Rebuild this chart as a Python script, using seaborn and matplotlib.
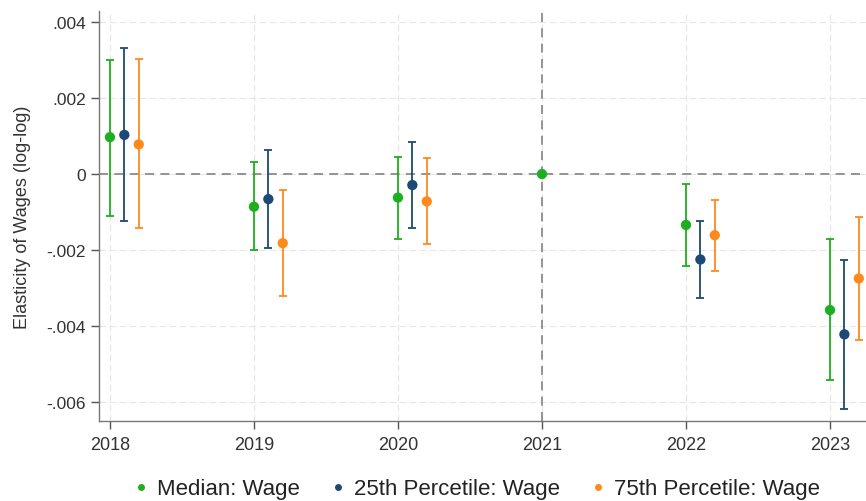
import numpy as np
import pandas as pd
import matplotlib
matplotlib.use("Agg")
import matplotlib.pyplot as plt
from matplotlib.lines import Line2D
import seaborn as sns

# Event-study coefficients with 95% confidence bounds
years = [2018, 2019, 2020, 2021, 2022, 2023]
series = ["Median: Wage", "25th Percetile: Wage", "75th Percetile: Wage"]

median_coef = [0.00097, -0.00086, -0.00062, 0.0, -0.00134, -0.00358]
median_lo = [-0.00110, -0.00199, -0.00172, 0.0, -0.00242, -0.00542]
median_hi = [0.00301, 0.00032, 0.00045, 0.0, -0.00025, -0.00171]

p25_coef = [0.00103, -0.00066, -0.00029, np.nan, -0.00225, -0.00422]
p25_lo = [-0.00123, -0.00194, -0.00143, np.nan, -0.00327, -0.00618]
p25_hi = [0.00332, 0.00063, 0.00085, np.nan, -0.00123, -0.00226]

p75_coef = [0.00078, -0.00182, -0.00072, np.nan, -0.00161, -0.00275]
p75_lo = [-0.00143, -0.00320, -0.00184, np.nan, -0.00255, -0.00436]
p75_hi = [0.00303, -0.00043, 0.00042, np.nan, -0.00069, -0.00114]

yticks = [0.004, 0.002, 0.0, -0.002, -0.004, -0.006]
ytick_labels = [".004", ".002", "0", "-.002", "-.004", "-.006"]

colors = ["#1fae1f", "#1d4a75", "#ff8a1c"]
offsets = [0.0, 0.1, 0.2]

frames = []
for name, off, c, lo, hi in zip(
    series, offsets,
    [median_coef, p25_coef, p75_coef],
    [median_lo, p25_lo, p75_lo],
    [median_hi, p25_hi, p75_hi],
):
    frames.append(pd.DataFrame({
        "year": years,
        "x": np.array(years) + off,
        "coef": c,
        "lo": lo,
        "hi": hi,
        "series": name,
    }))
df = pd.concat(frames, ignore_index=True).dropna()

sns.set_style("white")
plt.rcParams["font.family"] = ["Liberation Sans", "DejaVu Sans"]

fig = plt.figure(figsize=(8.66, 5.02), dpi=100)
ax = fig.add_axes([0.1143, 0.1594, 0.8857, 0.8166])

# faint dashed grid at major ticks
for yv in yticks:
    ax.axhline(yv, color="#e6e6e6", lw=0.8, ls=(0, (6, 3)), zorder=0)
for xv in years:
    ax.axvline(xv, color="#e6e6e6", lw=0.8, ls=(0, (6, 3)), zorder=0)

# reference lines
ax.axhline(0, color="#8c8c8c", lw=1.3, ls=(0, (5, 3.5)), zorder=1)
ax.axvline(2021, color="#8c8c8c", lw=1.3, ls=(0, (5, 3.5)), zorder=1)

palette = dict(zip(series, colors))
for name in series:
    sub = df[df["series"] == name]
    sub = sub[sub["hi"] != sub["lo"]]
    ax.errorbar(sub["x"], sub["coef"],
                yerr=[sub["coef"] - sub["lo"], sub["hi"] - sub["coef"]],
                fmt="none", ecolor=palette[name], elinewidth=1.3,
                capsize=3, capthick=1.3, zorder=2)

sns.scatterplot(data=df, x="x", y="coef", hue="series", palette=palette,
                s=55, edgecolor="none", legend=False, ax=ax, zorder=3)

ax.set_xlim(2017.924, 2023.25)
ax.set_ylim(-0.0065, 0.00429)
ax.set_xticks(years)
ax.set_xticklabels([str(y) for y in years])
ax.set_yticks(yticks)
ax.set_yticklabels(ytick_labels)
ax.set_xlabel("")
ax.set_ylabel("Elasticity of Wages (log-log)", fontsize=13, color="#333333", labelpad=11)
ax.tick_params(axis="both", length=6, width=1.0, color="#555555",
               labelsize=13, labelcolor="#333333", direction="out",
               bottom=True, left=True)
ax.tick_params(axis="y", labelsize=12.5)
ax.tick_params(axis="x", pad=5)

for side in ["top", "right"]:
    ax.spines[side].set_visible(False)
for side in ["left", "bottom"]:
    ax.spines[side].set_color("#777777")
    ax.spines[side].set_linewidth(1.0)

handles = [Line2D([0], [0], marker="o", color="w", markerfacecolor=c,
                  markeredgecolor="none", markersize=5, label=n)
           for n, c in zip(series, colors)]
fig.legend(handles=handles, loc="center", bbox_to_anchor=(0.550, 0.024),
           ncol=3, frameon=False, fontsize=16, handlelength=0.8,
           handletextpad=0.32, columnspacing=1.31, labelcolor="#222222")

fig.savefig("out.png", dpi=100)
